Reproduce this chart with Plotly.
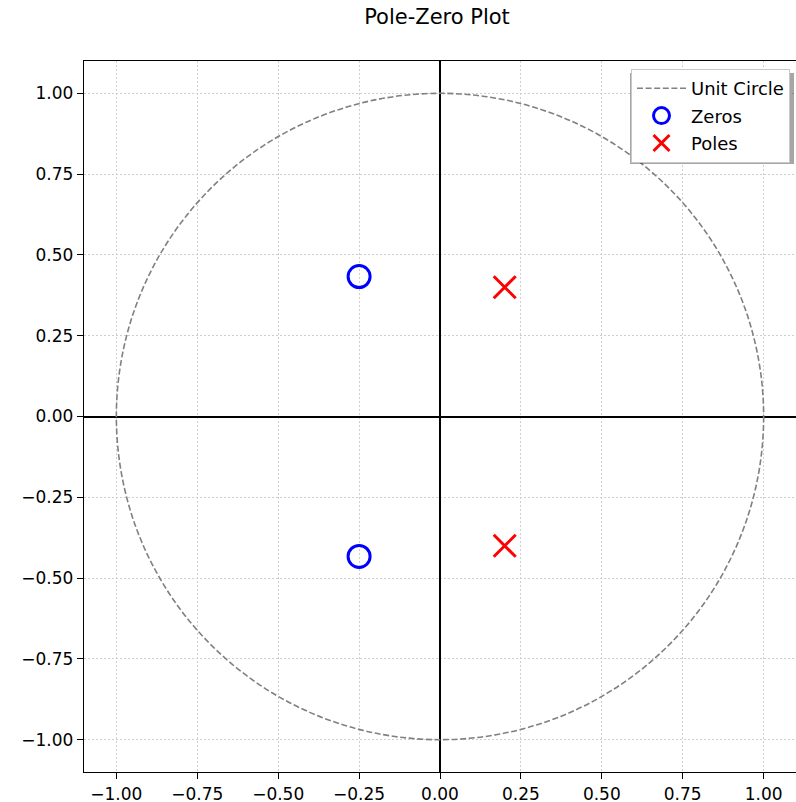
import plotly.graph_objects as go

zeros_re = [-0.25, -0.25]
zeros_im = [0.433, -0.433]
poles_re = [0.2, 0.2]
poles_im = [0.4, -0.4]
tick_vals = [-1.0, -0.75, -0.5, -0.25, 0.0, 0.25, 0.5, 0.75, 1.0]

FONT = "DejaVu Sans"
W, H = 796, 802
L, T, B = 84, 61, 802 - 772
PW, PH = W - L, H - T - B


def px(xw):
    return (xw - L) / PW


def py(yw):
    return (772 - yw) / PH


fig = go.Figure()

# unit circle (geometric shape in data coordinates)
fig.add_shape(type="circle", xref="x", yref="y", x0=-1, y0=-1, x1=1, y1=1,
              line=dict(color="gray", width=1.6, dash="6px,2.6px"), layer="above")

# legend entry for the unit circle
fig.add_trace(go.Scatter(x=[None], y=[None], mode="lines", name="Unit Circle",
                         legendgroup="a",
                         line=dict(color="gray", width=1.6, dash="6px,2.6px")))
fig.add_trace(go.Scatter(x=zeros_re, y=zeros_im, mode="markers", name="Zeros",
                         legendgroup="b",
                         marker=dict(symbol="circle-open", size=22, color="blue",
                                     line=dict(width=3, color="blue"))))
fig.add_trace(go.Scatter(x=poles_re, y=poles_im, mode="markers", name="Poles",
                         legendgroup="c",
                         marker=dict(symbol="x-thin-open", size=22, color="red",
                                     line=dict(width=3, color="red"))))

# legend shadow
fig.add_shape(type="rect", xref="paper", yref="paper",
              x0=px(630), x1=px(794), y0=py(164), y1=py(73),
              fillcolor="rgba(0,0,0,0.35)", line=dict(width=0), layer="above")

axis_common = dict(
    tickvals=tick_vals, tickformat=".2f",
    showgrid=True, gridcolor="#cfcfcf", griddash="2px,2px", gridwidth=1,
    zeroline=True, zerolinecolor="black", zerolinewidth=2,
    showline=True, linecolor="black", linewidth=1.4, mirror=True,
    ticks="outside", ticklen=6, tickwidth=1.4, tickcolor="black",
    tickfont=dict(family=FONT, size=17, color="black"),
)

fig.update_layout(
    width=W, height=H,
    margin=dict(l=L, r=0, t=T, b=B, autoexpand=False),
    paper_bgcolor="white", plot_bgcolor="white",
    title=dict(text="Pole-Zero Plot", x=437 / W, xanchor="center",
               y=1 - 17 / H, yanchor="middle",
               font=dict(family=FONT, size=21, color="black")),
    xaxis=dict(range=[-1.1, 1.1], **axis_common),
    yaxis=dict(range=[-1.1, 1.1], **axis_common),
    legend=dict(x=px(790), xanchor="right", y=py(69), yanchor="top",
                bgcolor="white", bordercolor="#c8c8c8", borderwidth=1,
                font=dict(family=FONT, size=18, color="black"),
                traceorder="grouped", tracegroupgap=1,
                itemwidth=49),
    showlegend=True,
)

fig.write_html(
    "out.html",
    config={"displayModeBar": False},
    post_script="document.body.style.margin='0';"
                "document.documentElement.style.overflow='hidden';",
)
